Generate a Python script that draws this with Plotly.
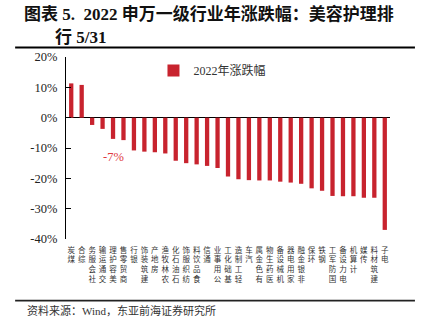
import plotly.graph_objects as go

industries = ["煤炭", "综合", "社会服务", "交通运输", "美容护理", "商贸零售", "银行",
              "建筑装饰", "房地产", "农林牧渔", "石油石化", "纺织服饰", "食品饮料", "通信",
              "公用事业", "基础化工", "轻工制造", "汽车", "有色金属", "医药生物", "机械设备",
              "家用电器", "非银金融", "环保", "钢铁", "国防军工", "电力设备", "计算机",
              "传媒", "建筑材料", "电子"]
changes = [11.3, 10.8, -2.4, -3.7, -7.0, -7.4, -10.8, -11.2, -11.4, -11.8, -14.2, -15.0,
           -15.4, -15.9, -16.6, -19.4, -20.3, -20.6, -20.7, -20.7, -21.1, -21.4, -21.8,
           -23.3, -24.1, -25.8, -25.9, -25.9, -26.4, -26.4, -37.0]
y_ticks = [20, 10, 0, -10, -20, -30, -40]
y_tick_labels = ["20%", "10%", "0%", "-10%", "-20%", "-30%", "-40%"]
series_name = "2022年涨跌幅"
highlight = "美容护理"
highlight_label = "-7%"

# stacked vertical labels, as drawn in the reference (last character on top)
tick_text = ["<br>".join(reversed(n)) for n in industries]

SERIF = "Liberation Serif, Times New Roman, Noto Sans CJK SC, serif"
CJK = "Noto Sans CJK SC, sans-serif"
RED = "#C8232E"

fig = go.Figure()
fig.add_trace(go.Bar(x=industries, y=changes, name=series_name,
                     marker=dict(color=RED, line=dict(width=0))))

fig.update_layout(
    width=425, height=328,
    margin=dict(l=66, r=35, t=57, b=89),
    plot_bgcolor="white", paper_bgcolor="white",
    bargap=0.59,
    showlegend=True,
    legend=dict(orientation="h", x=0.27, xanchor="left", y=1.005, yanchor="top",
                font=dict(family=SERIF, size=12, color="#333333"),
                bgcolor="rgba(0,0,0,0)", itemclick=False),
    font=dict(family=SERIF, color="#333333"),
)
fig.update_xaxes(
    type="category", tickmode="array", tickvals=industries, ticktext=tick_text,
    tickangle=0, showline=False, showgrid=False, zeroline=False, ticks="",
    tickfont=dict(family=CJK, size=7.5, color="#333333"),
    ticklabelstandoff=5,
    range=[-0.5, len(industries) - 0.5], fixedrange=True,
)
fig.update_yaxes(
    range=[-40, 20], tickmode="array", tickvals=y_ticks, ticktext=y_tick_labels,
    showline=True, linecolor="black", linewidth=1.2, showgrid=False,
    zeroline=True, zerolinecolor="black", zerolinewidth=1.3,
    ticks="inside", ticklen=5, tickcolor="black", tickwidth=1,
    tickfont=dict(family=SERIF, size=12.5, color="#222222"),
    ticklabelstandoff=5, fixedrange=True,
)

fig.add_annotation(x=highlight, y=-7, yanchor="top", yshift=-9, showarrow=False,
                   text=highlight_label, font=dict(family=SERIF, size=12.5, color="#E0393E"))

# title
fig.add_annotation(xref="paper", yref="paper", x=-0.136, y=1.234, xanchor="left",
                   yanchor="middle", showarrow=False,
                   text="<b>图表 5.  2022 申万一级行业年涨跌幅：美容护理排</b>",
                   font=dict(family=SERIF, size=17, color="#111111"))
fig.add_annotation(xref="paper", yref="paper", x=-0.040, y=1.107, xanchor="left",
                   yanchor="middle", showarrow=False,
                   text="<b>行 5/31</b>",
                   font=dict(family=SERIF, size=17, color="#111111"))
# source
fig.add_annotation(xref="paper", yref="paper", x=-0.127, y=-0.391, xanchor="left",
                   yanchor="middle", showarrow=False,
                   text="资料来源：Wind，东亚前海证券研究所",
                   font=dict(family=SERIF, size=11, color="#333333"))

fig.add_shape(type="line", xref="paper", yref="paper", x0=-0.157, x1=1.077,
              y0=1.052, y1=1.052, line=dict(color="black", width=2))
fig.add_shape(type="line", xref="paper", yref="paper", x0=-0.157, x1=1.077,
              y0=-0.339, y1=-0.339, line=dict(color="#222222", width=1.8))

fig.write_html("out.html")
